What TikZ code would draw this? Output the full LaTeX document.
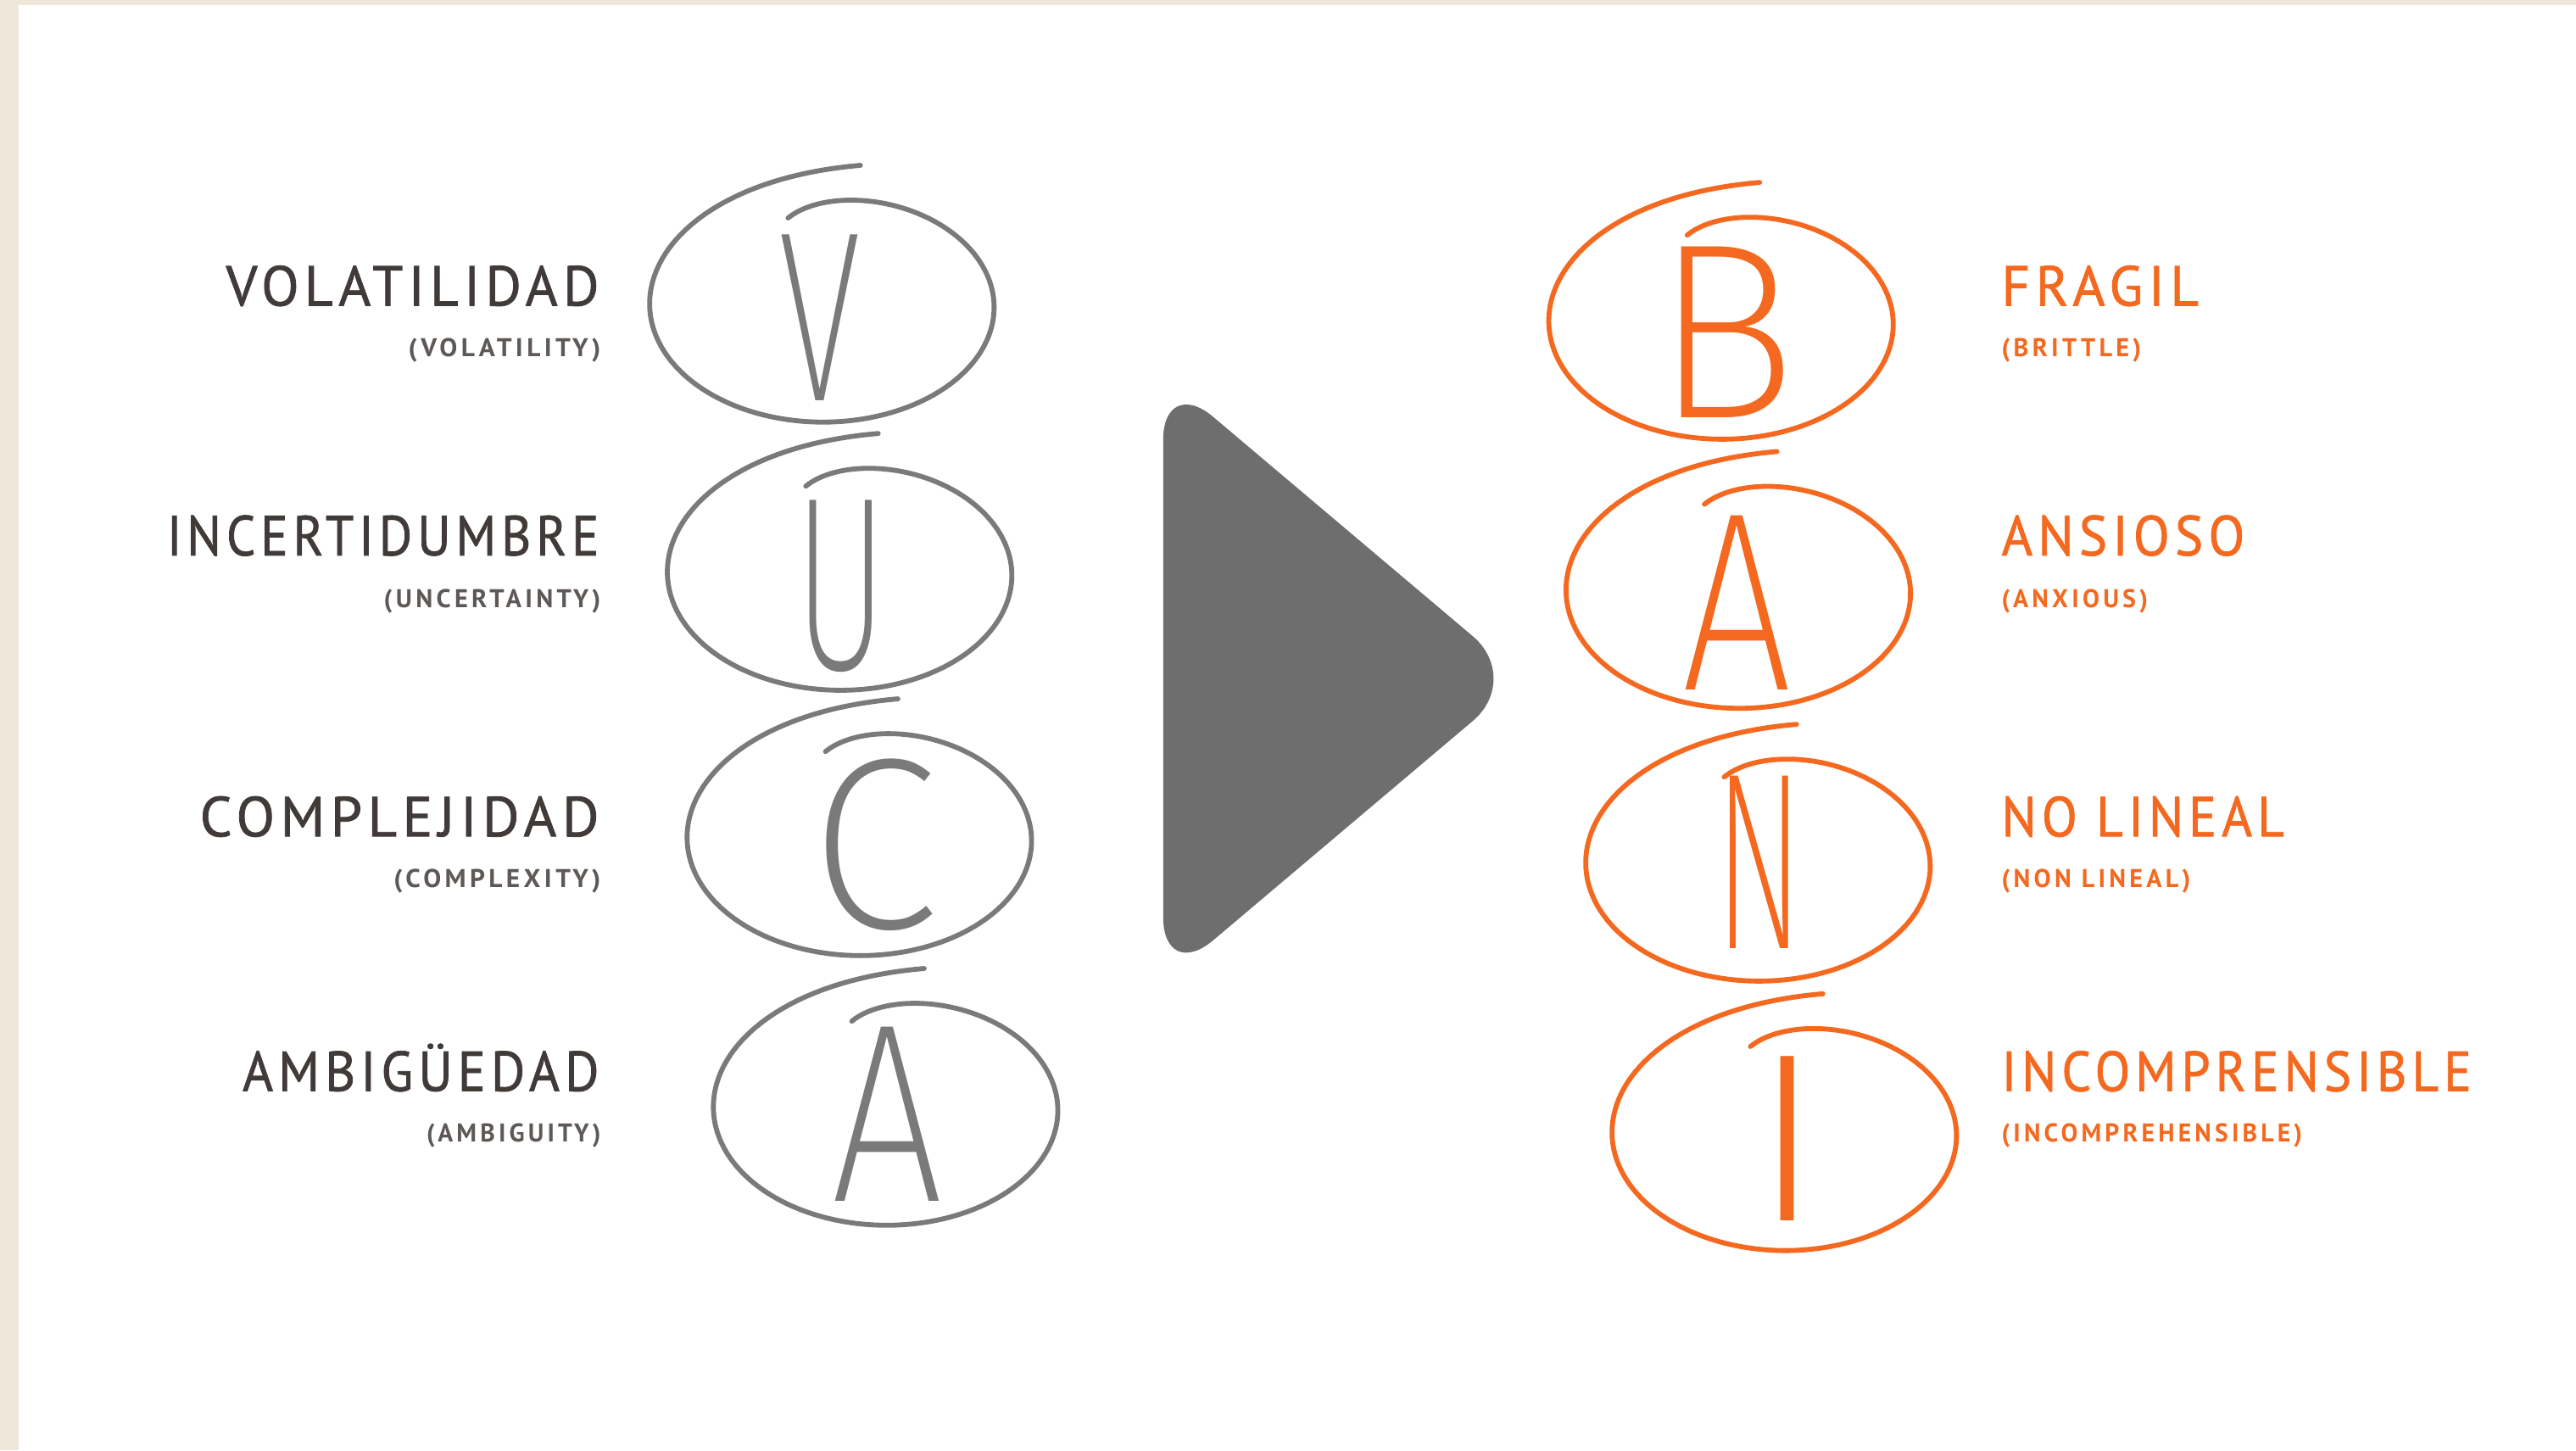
\documentclass[tikz,border=0pt]{standalone}
\usepackage{fontspec}
\usepackage{graphicx}
\setmainfont{PT Sans}
\newfontfamily\labfont[LetterSpace=10,FakeBold=1.2]{PT Sans}
\newfontfamily\subfont[LetterSpace=14]{PT Sans Bold}
\newfontfamily\handfont{Fira Sans ExtraLight}
\definecolor{txtgray}{HTML}{403B39}
\definecolor{subgray}{HTML}{5E5956}
\definecolor{ringgray}{HTML}{7A7A7A}
\definecolor{trigray}{HTML}{6E6E6E}
\definecolor{org}{HTML}{F4691F}
\definecolor{beige}{HTML}{EFE6DA}
\newcommand\handletter[3]{\resizebox{#1}{#2}{\handfont #3}}
\newcommand\fitw[2]{\resizebox{#1}{\height}{#2}}
\tikzset{
  declare function={rf(\a)=1-0.2*exp(-(105-\a)/20)+0.25*exp(-(\a+280)/37);},
  lab/.style={inner sep=0pt, font=\labfont\fontsize{19.5pt}{20pt}\selectfont},
  sublab/.style={inner sep=0pt, font=\subfont\fontsize{8.9pt}{9pt}\selectfont},
  hand/.style={inner sep=0pt},
  ring/.pic={
    \draw[line width=0.6mm, line cap=round, line join=round]
      plot[domain=105:-280, samples=160, smooth, variable=\t]
      ({104*rf(\t)*cos(\t)}, {-70*rf(\t)*sin(\t)});
  }
}
\begin{document}
\begin{tikzpicture}[x=0.2mm, y=-0.2mm]
\useasboundingbox (0,0) rectangle (1568,882.6);
\fill[beige] (0,0) rectangle (1568,882.6);
\fill[white] (11.4,3.3) rectangle (1568,882.6);

% VUCA rings
\pic[color=ringgray] at (501.2,186.8) {ring};
\pic[color=ringgray] at (512,350) {ring};
\pic[color=ringgray] at (524,511.5) {ring};
\pic[color=ringgray] at (540,675.6) {ring};
% BANI rings
\pic[color=org] at (1048.5,197.2) {ring};
\pic[color=org] at (1059,361) {ring};
\pic[color=org] at (1071,527) {ring};
\pic[color=org] at (1087,691) {ring};

% hand letters
\node[hand, text=ringgray] (hV) at (499,193.5) {\handletter{10mm}{20.2mm}{V}};
\node[hand, text=ringgray] (hU) at (512,357) {\handletter{11.2mm}{20.6mm}{U}};
\node[hand, text=ringgray] (hC) at (532,514) {\handletter{15.6mm}{20.6mm}{C}};
\node[hand, text=ringgray] (hA) at (540,678) {\handletter{13.6mm}{21.2mm}{A}};
\node[hand, text=org] (hB) at (1050,202) {\handletter{17.4mm}{20.8mm}{B}};
\node[hand, text=org] (hA2) at (1057,367) {\handletter{13.4mm}{21.2mm}{A}};
\node[hand, text=org] (hN) at (1071,525) {\handletter{10.8mm}{21mm}{N}};
\node[hand, text=org] (hI) at (1088,693) {\handletter{9.6mm}{20mm}{I}};

% arrow triangle
\fill[trigray, rounded corners=8mm] (708,413) -- (708,228) -- (927,413) -- (708,598) -- cycle;

% left labels
\node[lab, text=txtgray, anchor=base east] (l1) at (365,186) {\fitw{45.4mm}{VOLATILIDAD}};
\node[sublab, text=subgray, anchor=base east] (s1) at (366,217) {\fitw{23.4mm}{(VOLATILITY)}};
\node[lab, text=txtgray, anchor=base east] (l2) at (365,338) {\fitw{52.6mm}{INCERTIDUMBRE}};
\node[sublab, text=subgray, anchor=base east] (s2) at (366,370) {\fitw{26.4mm}{(UNCERTAINTY)}};
\node[lab, text=txtgray, anchor=base east] (l3) at (365,509) {\fitw{48.6mm}{COMPLEJIDAD}};
\node[sublab, text=subgray, anchor=base east] (s3) at (366,540) {\fitw{25.2mm}{(COMPLEXITY)}};
\node[lab, text=txtgray, anchor=base east] (l4) at (365,664) {\fitw{43.4mm}{AMBIGÜEDAD}};
\node[sublab, text=subgray, anchor=base east] (s4) at (366,695) {\fitw{21.2mm}{(AMBIGUITY)}};

% right labels
\node[lab, text=org, anchor=base west] (r1) at (1218,186) {\fitw{24mm}{FRAGIL}};
\node[sublab, text=org, anchor=base west] (t1) at (1218,217) {\fitw{17mm}{(BRITTLE)}};
\node[lab, text=org, anchor=base west] (r2) at (1218,338) {\fitw{29.6mm}{ANSIOSO}};
\node[sublab, text=org, anchor=base west] (t2) at (1218,370) {\fitw{17.8mm}{(ANXIOUS)}};
\node[lab, text=org, anchor=base west] (r3) at (1218,509) {\fitw{34.4mm}{NO LINEAL}};
\node[sublab, text=org, anchor=base west] (t3) at (1218,540) {\fitw{23mm}{(NON LINEAL)}};
\node[lab, text=org, anchor=base west] (r4) at (1218,664) {\fitw{57.2mm}{INCOMPRENSIBLE}};
\node[sublab, text=org, anchor=base west] (t4) at (1218,695) {\fitw{36.6mm}{(INCOMPREHENSIBLE)}};
\end{tikzpicture}
\end{document}
